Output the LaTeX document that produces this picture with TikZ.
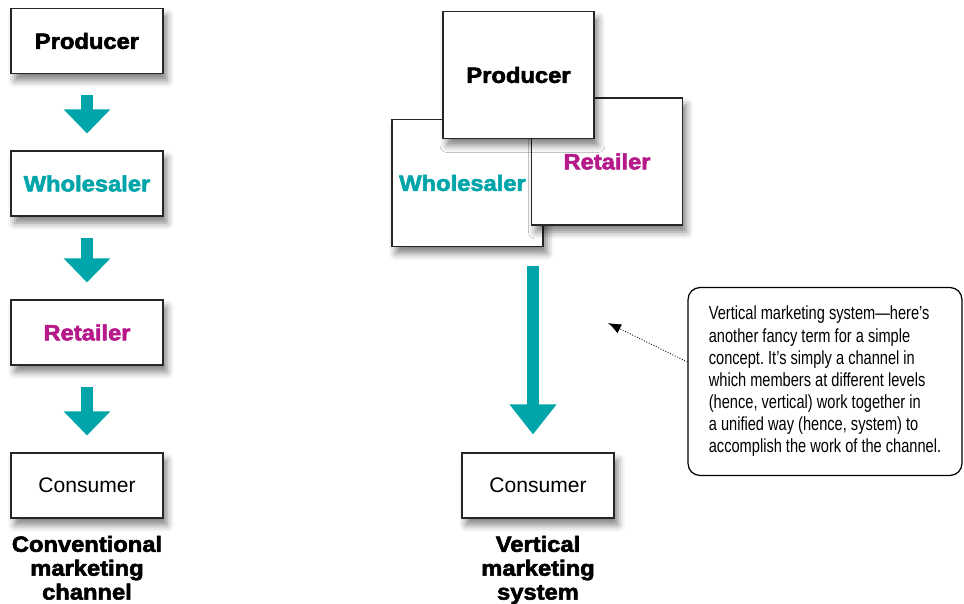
\documentclass[tikz,border=0pt]{standalone}
\usepackage{fontspec}
\setmainfont{Liberation Sans}
\newfontfamily\heavyfont{Liberation Sans}[FakeStretch=1.08,BoldFeatures={FakeBold=2.6}]
\newfontfamily\notefont{Liberation Sans}[FakeStretch=0.77]
\usepackage{tikz}
\usetikzlibrary{arrows.meta,positioning,shadows.blur}
\definecolor{flowteal}{HTML}{00A5AA}
\definecolor{retailmag}{HTML}{B5198A}
\frenchspacing

\begin{document}
\begin{tikzpicture}[x=0.02cm, y=-0.02cm,
  level/.style={draw=black!85, line width=0.6pt, fill=white, minimum width=3.04cm, minimum height=1.3cm, align=center, inner sep=0pt,
    blur shadow={shadow xshift=0.08cm, shadow yshift=-0.14cm, shadow blur radius=0.14cm, shadow opacity=50}},
  stack/.style={level, minimum width=3.02cm, minimum height=2.54cm},
  heavy/.style={font=\heavyfont\bfseries\fontsize{12.5}{13.6}\selectfont},
  plain/.style={font=\fontsize{12}{14}\selectfont},
  caption/.style={heavy, align=center, inner sep=0pt},
  flow/.style={draw=flowteal, line width=0.24cm, -{Triangle[width=0.9cm, length=0.48cm]}, shorten <=0.42cm, shorten >=0.34cm},
  bigflow/.style={draw=flowteal, line width=0.24cm, -{Triangle[width=0.9cm, length=0.6cm]}, shorten >=0.36cm},
  note/.style={draw, line width=0.7pt, rounded corners=0.24cm, minimum width=5.48cm, minimum height=3.76cm, align=left,
    font=\notefont\fontsize{10.8}{12.6}\selectfont},
  pointer/.style={densely dotted, line width=0.5pt, -{Latex[length=0.26cm, width=0.2cm]}}
]
  \useasboundingbox (0,0) rectangle (964,604);

  % conventional channel
  \node[level, heavy] (prod1) at (87,41) {Producer};
  \node[level, heavy, text=flowteal] (whol1) at (87,183.5) {Wholesaler};
  \node[level, heavy, text=retailmag] (ret1) at (87,332.5) {Retailer};
  \node[level, plain] (cons1) at (87,485.5) {Consumer};
  \node[caption, below=0.34cm of cons1] (cap1) {Conventional\\marketing\\channel};

  \draw[flow] (prod1) -- (whol1);
  \draw[flow] (whol1) -- (ret1);
  \draw[flow] (ret1) -- (cons1);

  % vertical system
  \node[stack, heavy, text=flowteal] (whol2) at (467.5,183) {Wholesaler\hspace{0.2cm}};
  \node[stack, heavy, text=retailmag] (ret2) at (607,161.5) {Retailer};
  \node[stack, heavy] (prod2) at (518.5,75) {Producer};
  \node[level, plain] (cons2) at (538,485.5) {Consumer};
  \node[caption, below=0.34cm of cons2] (cap2) {Vertical\\marketing\\system};

  \coordinate (vms) at (533,266);
  \draw[bigflow] (vms) -- (vms |- cons2.north);

  % callout
  \node[note] (remark) at (825,381.5) {Vertical marketing system—here’s\\another fancy term for a simple\\concept. It’s simply a channel in\\which members at different levels\\(hence, vertical) work together in\\a unified way (hence, system) to\\accomplish the work of the channel.};
  \coordinate (aim) at (608,323);
  \draw[pointer] ([yshift=0.39cm]remark.west) -- (aim);
\end{tikzpicture}
\end{document}
